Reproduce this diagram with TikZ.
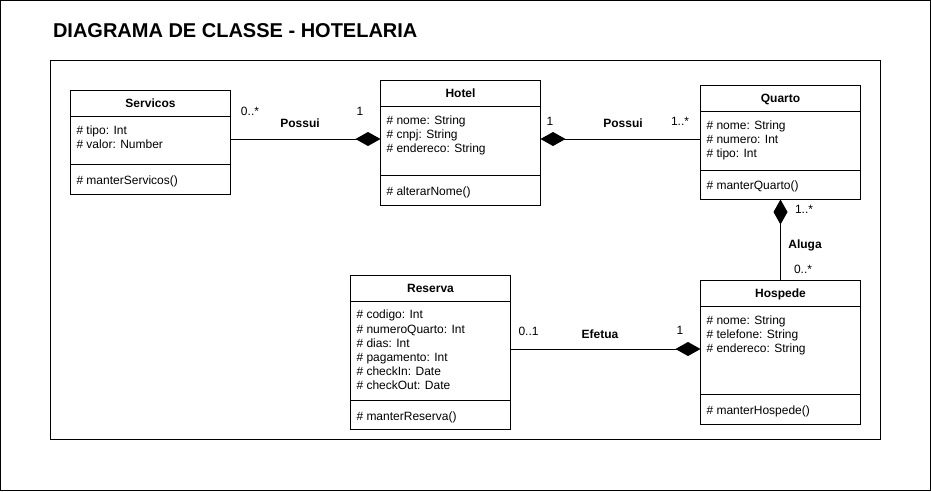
\documentclass[tikz,border=0pt]{standalone}
\usepackage{fontspec}
\setmainfont{Liberation Sans}
\usetikzlibrary{arrows.meta}
\tikzset{
  every node/.style={inner sep=0pt, outer sep=0pt},
  clsbox/.style={draw, line width=1pt, fill=white, anchor=north west},
  divline/.style={line width=1pt},
  clstitle/.style={font=\fontsize{12}{14}\selectfont\bfseries, text height=8.6pt, text depth=0pt},
  attr/.style={font=\fontsize{12}{14}\selectfont, anchor=west, text height=8.6pt, text depth=0pt},
  mult/.style={font=\fontsize{12}{14}\selectfont, text height=8.6pt, text depth=0pt},
  rel/.style={font=\fontsize{12}{14}\selectfont\bfseries, text height=8.6pt, text depth=0pt},
  comp/.style={line width=1pt, -{Diamond[length=25pt,width=14pt]}},
  frame/.style={line width=1pt},
}
\newcommand\attrlines[5]{%
  \foreach \t [count=\i] in {#5} {\node[attr] (#1\i) at (#2,{#3+#4*(\i-1)}) {\t};}}
\newcommand\divider[2]{%
  \draw[divline] ([yshift=-#2pt]#1.north west) -- ([yshift=-#2pt]#1.north east);}
\begin{document}
\begin{tikzpicture}[x=1pt,y=-1pt]
\useasboundingbox (0,0) rectangle (931,491);
\draw[frame] (0.5,0.5) rectangle (930.5,490.5);
\draw[frame] (50.5,60.5) rectangle (880.5,439.5);
\node[anchor=west, font=\fontsize{20}{24}\selectfont\bfseries, text height=14.3pt, text depth=0pt] (title) at (53,30.3) {DIAGRAMA DE CLASSE - HOTELARIA};

% Servicos
\node[clsbox, minimum width=160pt, minimum height=104pt] (servicos) at (70.5,90.5) {};
\divider{servicos}{26}
\divider{servicos}{74}
\node[clstitle] (servicosT) at (150.5,103) {Servicos};
\attrlines{servicosA}{76.5}{130}{14}{\# tipo: Int, \# valor: Number}
\node[attr] (servicosM) at (76.5,180.5) {\# manterServicos()};

% Hotel
\node[clsbox, minimum width=160pt, minimum height=125pt] (hotel) at (380.5,80.5) {};
\divider{hotel}{26}
\divider{hotel}{95}
\node[clstitle] (hotelT) at (460.5,93) {Hotel};
\attrlines{hotelA}{386.5}{120.5}{14}{\# nome: String, \# cnpj: String, \# endereco: String}
\node[attr] (hotelM) at (386.5,191.5) {\# alterarNome()};

% Quarto
\node[clsbox, minimum width=160pt, minimum height=114pt] (quarto) at (700.5,85.5) {};
\divider{quarto}{26}
\divider{quarto}{85}
\node[clstitle] (quartoT) at (780.5,98) {Quarto};
\attrlines{quartoA}{706.5}{125.5}{14}{\# nome: String, \# numero: Int, \# tipo: Int}
\node[attr] (quartoM) at (706.5,185.5) {\# manterQuarto()};

% Hospede
\node[clsbox, minimum width=160pt, minimum height=144pt] (hospede) at (700.5,280.5) {};
\divider{hospede}{26}
\divider{hospede}{114}
\node[clstitle] (hospedeT) at (780.5,293) {Hospede};
\attrlines{hospedeA}{706.5}{320.5}{14}{\# nome: String, \# telefone: String, \# endereco: String}
\node[attr] (hospedeM) at (706.5,410.5) {\# manterHospede()};

% Reserva
\node[clsbox, minimum width=160pt, minimum height=154pt] (reserva) at (350.5,275.5) {};
\divider{reserva}{26}
\divider{reserva}{125}
\node[clstitle] (reservaT) at (430.5,288) {Reserva};
\attrlines{reservaA}{356.5}{314.5}{14.2}{\# codigo: Int, \# numeroQuarto: Int, \# dias: Int, \# pagamento: Int, \# checkIn: Date, \# checkOut: Date}
\node[attr] (reservaM) at (356.5,416) {\# manterReserva()};

% connectors
\coordinate (c1) at ([yshift=3.5pt]servicos.east);
\draw[comp] (c1) -- (c1 -| hotel.west);
\coordinate (c2) at ([yshift=3.5pt]quarto.west);
\draw[comp] (c2) -- (c2 -| hotel.east);
\draw[comp] (hospede.north) -- (quarto.south);
\coordinate (c4) at ([yshift=3.5pt]reserva.east);
\draw[comp] (c4) -- (c4 -| hospede.west);

% labels
\node[mult] (m1a) at (250,111.5) {0..*};
\node[mult] (m1b) at (360,111.5) {1};
\node[rel] (r1) at (300,123.5) {Possui};
\node[mult] (m2a) at (550,121.5) {1};
\node[rel] (r2) at (623,123.5) {Possui};
\node[mult] (m2b) at (680,121) {1..*};
\node[mult] (m3a) at (804,209.5) {1..*};
\node[rel] (r3) at (805,244) {Aluga};
\node[mult] (m3b) at (803,269.5) {0..*};
\node[mult] (m4a) at (528.5,331.5) {0..1};
\node[rel] (r4) at (600,334) {Efetua};
\node[mult] (m4b) at (680,330) {1};
\end{tikzpicture}
\end{document}
